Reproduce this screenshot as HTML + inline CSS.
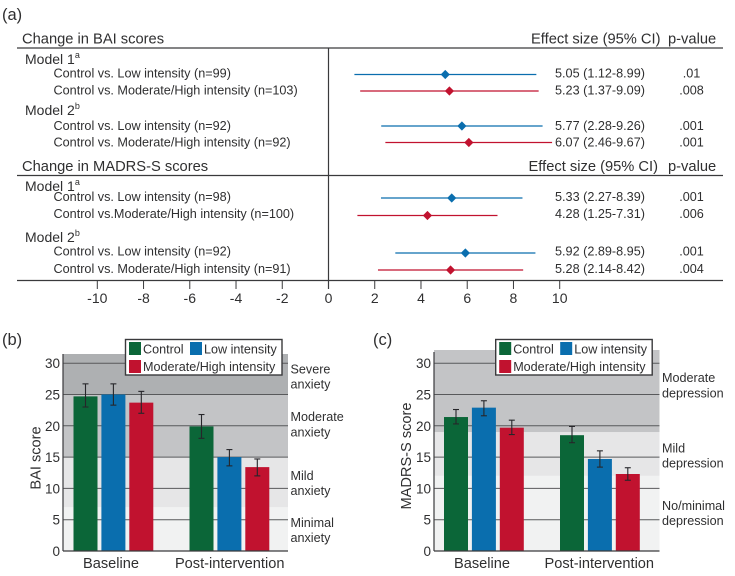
<!DOCTYPE html>
<html>
<head>
<meta charset="utf-8">
<title>Effect sizes and score bars</title>
<style>
html,body{margin:0;padding:0;background:#fff;width:735px;height:576px;overflow:hidden}
svg{display:block}
text{font-family:"Liberation Sans",sans-serif;fill:#2f2f30}
</style>
</head>
<body>
<svg id="fig" xmlns="http://www.w3.org/2000/svg" width="735" height="576" viewBox="0 0 735 576">
  <text x="2" y="20" font-size="16.5">(a)</text>
  <text x="2" y="345" font-size="16.5">(b)</text>
  <text x="373" y="345" font-size="16.5">(c)</text>

  <text x="22" y="43.5" font-size="14.7">Change in BAI scores</text>
  <text x="531" y="43.5" font-size="14.7">Effect size (95% CI)</text>
  <text x="668" y="43.5" font-size="14.7">p-value</text>
  <text x="22" y="171" font-size="14.7">Change in MADRS-S scores</text>
  <text x="528.5" y="171" font-size="14.7">Effect size (95% CI)</text>
  <text x="668" y="171" font-size="14.7">p-value</text>

  <text x="25" y="64" font-size="14">Model 1<tspan dy="-6" font-size="9">a</tspan></text>
  <text x="25" y="115" font-size="14">Model 2<tspan dy="-6" font-size="9">b</tspan></text>
  <text x="25" y="191" font-size="14">Model 1<tspan dy="-6" font-size="9">a</tspan></text>
  <text x="25" y="242" font-size="14">Model 2<tspan dy="-6" font-size="9">b</tspan></text>

  <g id="forest"></g>
  <g id="chartB"></g>
  <g id="chartC"></g>
</svg>

<script>
// ---------- Panel (a) data ----------
const forestLabels = [
  "Control vs. Low intensity (n=99)",
  "Control vs. Moderate/High intensity (n=103)",
  "Control vs. Low intensity (n=92)",
  "Control vs. Moderate/High intensity (n=92)",
  "Control vs. Low intensity (n=98)",
  "Control vs.Moderate/High intensity (n=100)",
  "Control vs. Low intensity (n=92)",
  "Control vs. Moderate/High intensity (n=91)"
];
const forestEffects = [5.05, 5.23, 5.77, 6.07, 5.33, 4.28, 5.92, 5.28];
const forestLower = [1.12, 1.37, 2.28, 2.46, 2.27, 1.25, 2.89, 2.14];
const forestUpper = [8.99, 9.09, 9.26, 9.67, 8.39, 7.31, 8.95, 8.42];
const forestP = [".01", ".008", ".001", ".001", ".001", ".006", ".001", ".004"];
const forestTicks = [-10, -8, -6, -4, -2, 0, 2, 4, 6, 8, 10];

// ---------- Panel (b) data ----------
const groups = ["Baseline", "Post-intervention"];
const seriesNames = ["Control", "Low intensity", "Moderate/High intensity"];
const baiControl = [24.7, 19.9];
const baiLow = [25.0, 15.0];
const baiHigh = [23.7, 13.4];
const baiControlErrLow = [23.0, 18.0];
const baiControlErrHigh = [26.7, 21.8];
const baiLowErrLow = [23.3, 13.6];
const baiLowErrHigh = [26.7, 16.2];
const baiHighErrLow = [22.0, 12.0];
const baiHighErrHigh = [25.5, 14.7];
const baiBandEdges = [0, 7, 15, 25];
const baiBandNames = ["minimal", "mild", "moderate", "severe"];

// ---------- Panel (c) data ----------
const madrsControl = [21.4, 18.5];
const madrsLow = [22.9, 14.7];
const madrsHigh = [19.7, 12.3];
const madrsControlErrLow = [20.3, 17.3];
const madrsControlErrHigh = [22.6, 19.9];
const madrsLowErrLow = [21.6, 13.4];
const madrsLowErrHigh = [24.0, 16.0];
const madrsHighErrLow = [18.6, 11.3];
const madrsHighErrHigh = [20.9, 13.3];
const madrsBandEdges = [0, 12, 19];
const madrsBandNames = ["no-minimal", "mild", "moderate"];

const yTicks = [0, 5, 10, 15, 20, 25, 30];

// ---------- Style / layout ----------
const NS = "http://www.w3.org/2000/svg";
const BLUE = "#0a6eae";
const RED = "#c1122f";
const GREEN = "#0b6638";
const AXIS = "#3a3a3c";
const seriesColors = [GREEN, BLUE, RED];

function make(tag, attrs, parent, content) {
  const n = document.createElementNS(NS, tag);
  for (const k in attrs) n.setAttribute(k, attrs[k]);
  if (content !== undefined) n.textContent = content;
  parent.appendChild(n);
  return n;
}

// ---------- Forest plot ----------
function xForest(v) { return 328.5 + v * 23.12; }
function rowY(i) { return [74.5, 91, 126, 142.5, 198, 215.5, 253, 270][i]; }
function rowBaseline(i) { return [77.5, 94.5, 130, 146.5, 201, 218, 255.5, 273][i]; }

const forest = document.getElementById("forest");

[48, 175.5, 280.5].forEach(function (y) {
  const rule = make("line", {x1: 17, x2: 723, y1: y, y2: y, stroke: AXIS, "stroke-width": 1.3}, forest);
  
  
});
const zeroLine = make("line", {x1: xForest(0), x2: xForest(0), y1: 48, y2: 289, stroke: AXIS, "stroke-width": 1.2}, forest);



forestTicks.forEach(function (t) {
  const tick = make("line", {x1: xForest(t), x2: xForest(t), y1: 280.5, y2: 289, stroke: AXIS, "stroke-width": 1}, forest);
  
  
  const lab = make("text", {x: xForest(t), y: 303, "text-anchor": "middle", "font-size": 14}, forest, String(t));
  
  
});

forestLabels.forEach(function (label, i) {
  const color = i % 2 === 0 ? BLUE : RED;
  const y = rowY(i);
  const by = rowBaseline(i);
  const name = make("text", {x: 53.5, y: by, "font-size": 12.65}, forest, label);
  
  
  const ci = make("line", {x1: xForest(forestLower[i]), x2: xForest(forestUpper[i]), y1: y, y2: y, stroke: color, "stroke-width": 1.2}, forest);
  
  
  const cx = xForest(forestEffects[i]);
  const s = 4.6;
  const d = make("polygon", {points: (cx - s) + "," + y + " " + cx + "," + (y - s) + " " + (cx + s) + "," + y + " " + cx + "," + (y + s), fill: color}, forest);
  
  
  const txt = forestEffects[i].toFixed(2) + " (" + forestLower[i].toFixed(2) + "-" + forestUpper[i].toFixed(2) + ")";
  const val = make("text", {x: 555, y: by, "font-size": 12.65}, forest, txt);
  
  
  const p = make("text", {x: 691.5, y: by, "text-anchor": "middle", "font-size": 12.65}, forest, forestP[i]);
  
  
});

// ---------- Bar charts ----------
const BAND_COLORS = {severe: "#aeb0b2", moderate: "#c3c4c6", mild: "#e6e6e7", minimal: "#f1f2f2", "no-minimal": "#f1f2f2"};

function yScore(v) { return 551 - v * 6.26; }

function drawBars(cfg) {
  const g = cfg.root;
  const top = cfg.top;

  // severity bands
  cfg.edges.forEach(function (edge, i) {
    const upper = i + 1 < cfg.edges.length ? yScore(cfg.edges[i + 1]) : top;
    const band = make("rect", {x: cfg.left, y: upper, width: cfg.right - cfg.left, height: yScore(edge) - upper, fill: BAND_COLORS[cfg.bandNames[i]]}, g);
    
    
  });

  // grid and y tick labels
  yTicks.forEach(function (t) {
    if (t > 0) {
      const grid = make("line", {x1: cfg.left, x2: cfg.right, y1: yScore(t), y2: yScore(t), stroke: "#58595b", "stroke-width": 1}, g);
      
      
    }
    const lab = make("text", {x: cfg.left - 3, y: yScore(t) + 5, "text-anchor": "end", "font-size": 13.5}, g, String(t));
    
    
  });

  // bars and error bars
  groups.forEach(function (group, gi) {
    cfg.series.forEach(function (vals, si) {
      const x = cfg.groupX[gi] + si * 27.9;
      const w = 24;
      const y = yScore(vals[gi]);
      const bar = make("rect", {x: x, y: y, width: w, height: yScore(0) - y, fill: seriesColors[si]}, g);
      
      
      const cx = x + w / 2;
      const yl = yScore(cfg.errLow[si][gi]);
      const yh = yScore(cfg.errHigh[si][gi]);
      const stem = make("line", {x1: cx, x2: cx, y1: yl, y2: yh, stroke: "#26262a", "stroke-width": 1.1}, g);
      
      
      [yl, yh].forEach(function (cy) {
        const cap = make("line", {x1: cx - 3, x2: cx + 3, y1: cy, y2: cy, stroke: "#26262a", "stroke-width": 1.1}, g);
        
        
      });
    });
    const xl = make("text", {x: cfg.groupLabelX[gi], y: 568, "text-anchor": "middle", "font-size": 14.6}, g, group);
    
    
  });

  // axes
  const yAxis = make("line", {x1: cfg.left, x2: cfg.left, y1: cfg.axisTop, y2: yScore(0), stroke: AXIS, "stroke-width": 1.2}, g);
  
  
  const xAxis = make("line", {x1: cfg.left, x2: cfg.right, y1: yScore(0), y2: yScore(0), stroke: AXIS, "stroke-width": 1.2}, g);
  
  

  // y title
  const yTitle = make("text", {transform: "translate(" + cfg.titleX + "," + cfg.titleY + ") rotate(-90)", "text-anchor": "middle", "font-size": 14.6}, g, cfg.title);
  
  

  // band labels
  cfg.notes.forEach(function (note) {
    const t = make("text", {x: cfg.right + 2.5, y: note[1], "font-size": 12.6}, g, note[0]);
    
    
  });

  // legend
  const lx = cfg.legendX;
  const box = make("rect", {x: lx, y: 339.5, width: 156.5, height: 35.5, fill: "#fff", stroke: "#3a3a3c", "stroke-width": 1.4}, g);
  
  
  const swatchX = [lx + 3.5, lx + 64.5, lx + 3.5];
  const swatchY = [342, 342, 360];
  const labelX = [lx + 17.5, lx + 78.5, lx + 17.5];
  const labelY = [353.5, 353.5, 371];
  seriesNames.forEach(function (nm, i) {
    const sw = make("rect", {x: swatchX[i], y: swatchY[i], width: 12, height: 13, fill: seriesColors[i]}, g);
    
    
    const lt = make("text", {x: labelX[i], y: labelY[i], "font-size": 12.6}, g, nm);
    
    
  });
}

drawBars({
  root: document.getElementById("chartB"),
  left: 63, right: 288, top: 354, axisTop: 354,
  edges: baiBandEdges, bandNames: baiBandNames,
  series: [baiControl, baiLow, baiHigh],
  errLow: [baiControlErrLow, baiLowErrLow, baiHighErrLow],
  errHigh: [baiControlErrHigh, baiLowErrHigh, baiHighErrHigh],
  groupX: [73.5, 189.5], groupLabelX: [111, 229.7],
  title: "BAI score", titleX: 40.5, titleY: 458,
  legendX: 125.5,
  notes: [["Severe", 373.5], ["anxiety", 388.5], ["Moderate", 421], ["anxiety", 436.5], ["Mild", 480], ["anxiety", 495], ["Minimal", 527], ["anxiety", 542]]
});

drawBars({
  root: document.getElementById("chartC"),
  left: 434, right: 659.5, top: 350, axisTop: 352,
  edges: madrsBandEdges, bandNames: madrsBandNames,
  series: [madrsControl, madrsLow, madrsHigh],
  errLow: [madrsControlErrLow, madrsLowErrLow, madrsHighErrLow],
  errHigh: [madrsControlErrHigh, madrsLowErrHigh, madrsHighErrHigh],
  groupX: [444, 560], groupLabelX: [482, 599.3],
  title: "MADRS-S score", titleX: 411, titleY: 456,
  legendX: 495.7,
  notes: [["Moderate", 382], ["depression", 397.5], ["Mild", 452.5], ["depression", 467.5], ["No/minimal", 510], ["depression", 525]]
});
</script>
</body>
</html>
